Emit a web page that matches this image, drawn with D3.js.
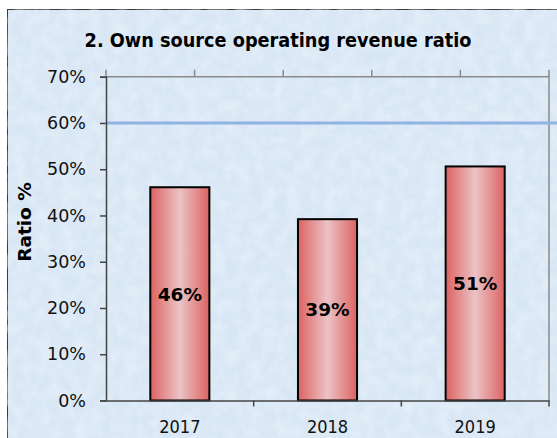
<!DOCTYPE html>
<html>
<head>
<meta charset="utf-8">
<script src="https://cdn.jsdelivr.net/npm/d3@7"></script>
<style>
  body { margin: 0; background: #fff; }
  svg text { font-family: "DejaVu Sans", sans-serif; }
  svg text.cond { font-family: "DejaVu Sans Condensed", "DejaVu Sans", sans-serif; }
</style>
</head>
<body>
<div id="chart"></div>
<script>
// chart data
const years = ["2017", "2018", "2019"];
const ratios = [0.461, 0.392, 0.506];
const barLabels = ["46%", "39%", "51%"];
const yTicks = [0, 0.1, 0.2, 0.3, 0.4, 0.5, 0.6, 0.7];
const targetRatio = 0.6;

const width = 557, height = 438;
const margin = { top: 76.7, right: 8, bottom: 37.5, left: 106 };

const svg = d3.select("#chart").append("svg")
              .attr("width", width)
              .attr("height", height);

const defs = svg.append("defs");

// textured light blue background
const tex = defs.append("filter").attr("id", "tex")
                .attr("x", 0).attr("y", 0).attr("width", 1).attr("height", 1);
tex.append("feTurbulence")
   .attr("type", "fractalNoise")
   .attr("baseFrequency", 0.08)
   .attr("numOctaves", 3)
   .attr("seed", 4)
   .attr("result", "noise");
tex.append("feColorMatrix")
   .attr("in", "noise")
   .attr("type", "matrix")
   .attr("values", "0 0 0 0 1  0 0 0 0 1  0 0 0 0 1  0 0 0 0.55 -0.2")
   .attr("result", "spots");
tex.append("feComposite").attr("in", "spots").attr("in2", "SourceGraphic").attr("operator", "in").attr("result", "sp");
tex.append("feMerge").call(m => {
  m.append("feMergeNode").attr("in", "SourceGraphic");
  m.append("feMergeNode").attr("in", "sp");
});

// bar gradient
const grad = defs.append("linearGradient").attr("id", "barGrad")
                 .attr("x1", "0%").attr("x2", "100%").attr("y1", "0%").attr("y2", "0%");
grad.append("stop").attr("offset", "0%").attr("stop-color", "#dd6361");
grad.append("stop").attr("offset", "50%").attr("stop-color", "#ebc3c6");
grad.append("stop").attr("offset", "100%").attr("stop-color", "#dd6361");

svg.append("rect")
   .attr("x", 7.5).attr("y", 9.5)
   .attr("width", width).attr("height", height)
   .attr("fill", "#d9e7f5")
   .attr("stroke", "#3a3a3a")
   .attr("stroke-width", 1)
   .attr("filter", "url(#tex)");

// scales
const x = d3.scaleBand()
            .domain(years)
            .range([margin.left, width - margin.right])
            .padding(0);

const y = d3.scaleLinear()
            .domain([0, 0.7])
            .range([height - margin.bottom, margin.top]);

const barW = x.bandwidth() * 0.4;

// plot frame (top and right)
svg.append("path")
   .attr("d", `M${margin.left},${margin.top}H${width - margin.right}V${y(0)}`)
   .attr("fill", "none")
   .attr("stroke", "#8a8a8a")
   .attr("stroke-width", 1.5);

// top secondary ticks
const topTicks = d3.scaleLinear().domain([0, 5]).range([margin.left, width - margin.right]);
svg.append("g")
   .selectAll("line")
   .data(d3.range(0, 6))
   .enter()
   .append("line")
   .attr("x1", d => topTicks(d)).attr("x2", d => topTicks(d))
   .attr("y1", margin.top).attr("y2", margin.top - 7)
   .attr("stroke", "#8a8a8a")
   .attr("stroke-width", 1.5);

// 60% line
svg.append("line")
   .attr("x1", margin.left).attr("x2", width)
   .attr("y1", y(targetRatio)).attr("y2", y(targetRatio))
   .attr("stroke", "#8fb4e3")
   .attr("stroke-width", 3);

// bars
svg.selectAll("rect.bar")
   .data(ratios)
   .enter()
   .append("rect")
   .attr("class", "bar")
   .attr("x", (d, i) => x(years[i]) + (x.bandwidth() - barW) / 2)
   .attr("y", d => y(d))
   .attr("width", barW)
   .attr("height", d => y(0) - y(d))
   .attr("fill", "url(#barGrad)")
   .attr("stroke", "#000")
   .attr("stroke-width", 2);

// bar labels
svg.selectAll("text.lbl")
   .data(ratios)
   .enter()
   .append("text")
   .attr("class", "lbl")
   .attr("x", (d, i) => x(years[i]) + x.bandwidth() / 2)
   .attr("y", d => (y(d) + y(0)) / 2)
   .attr("dy", "0.36em")
   .attr("text-anchor", "middle")
   .attr("font-weight", "bold")
   .attr("font-size", 18.5)
   .text((d, i) => barLabels[i]);

// y axis
const yAxis = svg.append("g")
   .attr("transform", `translate(${margin.left},0)`)
   .call(d3.axisLeft(y).tickValues(yTicks).tickFormat(d3.format(".0%")).tickSize(6).tickPadding(14));
yAxis.select(".domain").attr("stroke", "#444").attr("stroke-width", 1.5);
yAxis.selectAll(".tick line").attr("stroke", "#444").attr("stroke-width", 1.5);
yAxis.selectAll("text").attr("font-size", 17.5).attr("fill", "#111");

// x axis
const xAxis = svg.append("g")
   .attr("transform", `translate(0,${y(0)})`)
   .call(d3.axisBottom(x).tickSize(0).tickPadding(20));
xAxis.select(".domain").attr("stroke", "#444").attr("stroke-width", 1.5);
xAxis.selectAll("text").attr("class", "cond").attr("font-size", 18).attr("fill", "#111");
xAxis.selectAll(".sep")
   .data(years.slice(1).concat(["end"]))
   .enter()
   .append("line")
   .attr("x1", d => d === "end" ? x.range()[1] : x(d))
   .attr("x2", d => d === "end" ? x.range()[1] : x(d))
   .attr("y1", 0).attr("y2", 6)
   .attr("stroke", "#444")
   .attr("stroke-width", 1.5);

// title
svg.append("text")
   .attr("class", "cond")
   .attr("x", 278)
   .attr("y", 47)
   .attr("text-anchor", "middle")
   .attr("font-weight", "bold")
   .attr("font-size", 19.7)
   .text("2. Own source operating revenue ratio");

// y axis title
svg.append("text")
   .attr("transform", "translate(31,222) rotate(-90)")
   .attr("text-anchor", "middle")
   .attr("font-weight", "bold")
   .attr("font-size", 18.5)
   .text("Ratio %");
</script>
</body>
</html>
